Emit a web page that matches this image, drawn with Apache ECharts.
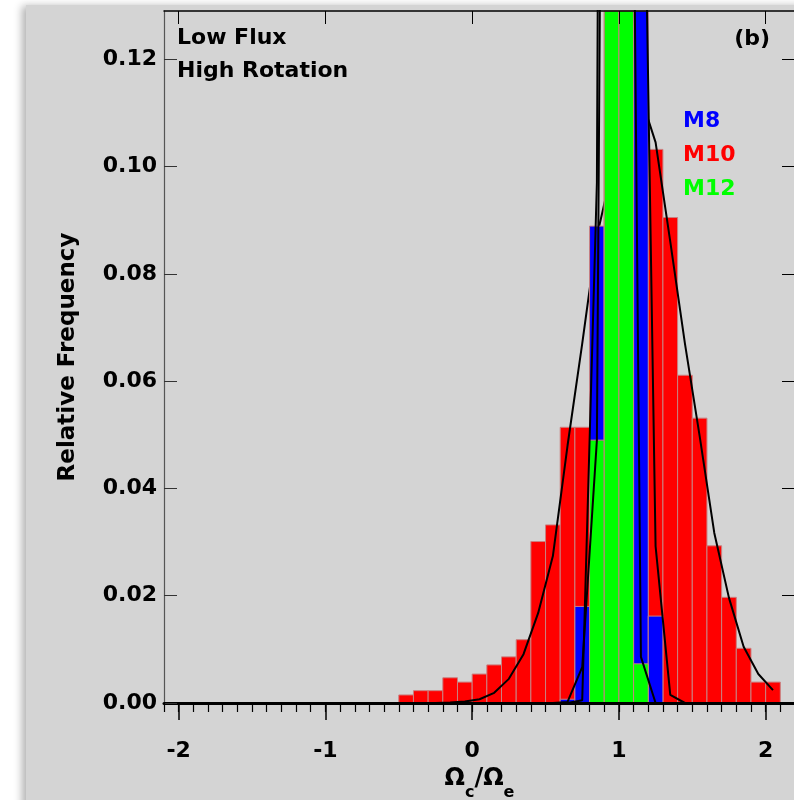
<!DOCTYPE html>
<html><head><meta charset="utf-8">
<script src="https://cdn.jsdelivr.net/npm/echarts@6/dist/echarts.min.js"></script>
<style>
html,body{margin:0;padding:0;width:794px;height:800px;overflow:hidden;background:#fff;}
#panel{position:absolute;left:26px;top:5px;width:790px;height:820px;background:#d4d4d4;box-shadow:-4px 1px 8px rgba(0,0,0,0.3);}
#chart{position:absolute;left:0;top:0;width:790px;height:820px;}
</style></head><body>
<div id="panel"><div id="chart"></div></div>
<script>
// ---- data ----
const m10BinStart = [-0.5,-0.4,-0.3,-0.2,-0.1,0.0,0.1,0.2,0.3,0.4,0.5,0.6,0.7,0.8,0.9,1.0,1.1,1.2,1.3,1.4,1.5,1.6,1.7,1.8,1.9,2.0];
const m10Freq     = [0.0015,0.0023,0.0023,0.0047,0.0039,0.0054,0.0071,0.0086,0.0118,0.0301,0.0332,0.0514,0.0514,0.085,0.105,0.115,0.106,0.1032,0.0905,0.0611,0.0531,0.0293,0.0197,0.0102,0.0039,0.0039];
const m8BinStart  = [0.6,0.7,0.8,0.9,1.0,1.1,1.2];
const m8Freq      = [0.0007,0.0180,0.0889,0.29,0.36,0.226,0.0162];
const m12BinStart = [0.8,0.9,1.0,1.1];
const m12Freq     = [0.049,0.50,0.444,0.0073];

const m10CurveX = [-0.45,-0.35,-0.25,-0.15,-0.05,0.05,0.15,0.25,0.35,0.45,0.55,0.65,0.75,0.85,0.95,1.05,1.15,1.25,1.35,1.45,1.55,1.65,1.75,1.85,1.95,2.05];
const m10CurveY = [0,0,0,0.0001,0.0003,0.0007,0.0019,0.0045,0.0091,0.0168,0.0274,0.0480,0.0670,0.0870,0.0990,0.1090,0.1130,0.1045,0.0860,0.0670,0.0498,0.0317,0.0196,0.0105,0.0054,0.0024];
const m8CurveX  = [0.55,0.65,0.75,0.85,0.95,1.05,1.15,1.25,1.35,1.45];
const m8CurveY  = [0,0.0002,0.0067,0.049,0.45,0.42,0.20,0.0292,0.0015,0];
const m12CurveX = [0.65,0.75,0.85,0.95,1.05,1.15,1.25];
const m12CurveY = [0,0.0005,0.097,0.68,0.30,0.0086,0];

const xMajorTicks = [-2,-1,0,1,2];
const xMinorTicks = [-2.1,-2.0,-1.9,-1.8,-1.7,-1.6,-1.5,-1.4,-1.3,-1.2,-1.1,-1.0,-0.9,-0.8,-0.7,-0.6,-0.5,-0.4,-0.3,-0.2,-0.1,0.0,0.1,0.2,0.3,0.4,0.5,0.6,0.7,0.8,0.9,1.0,1.1,1.2,1.3,1.4,1.5,1.6,1.7,1.8,1.9,2.0,2.1,2.2];
const yTicks = [0,0.02,0.04,0.06,0.08,0.10,0.12];
const seriesNames = ['M8','M10','M12'];
const annotations = ['Low Flux','High Rotation','(b)'];

// ---- rendering ----
const BIN_W = 0.1;
const FONT = '"DejaVu Sans", sans-serif';
const zip = (a, b) => a.map((v, i) => [v, b[i]]);

function barRenderer(color) {
  return function (params, api) {
    const x0 = api.value(0), h = api.value(1);
    const p0 = api.coord([x0, h]);
    const p1 = api.coord([x0 + BIN_W, 0]);
    const cs = params.coordSys;
    const shape = echarts.graphic.clipRectByRect(
      {x: p0[0], y: p0[1], width: p1[0] - p0[0], height: p1[1] - p0[1]},
      {x: cs.x, y: cs.y, width: cs.width, height: cs.height});
    return shape && {type: 'rect', shape: shape,
      style: {fill: color, stroke: '#c98080', lineWidth: 1}};
  };
}

const chart = echarts.init(document.getElementById('chart'));
const labelStyle = {fontFamily: FONT, fontSize: 22, fontWeight: 'bold', color: '#000'};
function txt(x, y, text, color, align) {
  return {type: 'text', x: x, y: y, z: 20, style: {text: text, fontFamily: FONT, fontSize: 22, fontWeight: 'bold',
    fill: color, verticalAlign: 'middle', align: align}};
}
chart.setOption({
  animation: false,
  grid: {left: 138, top: 6, width: 631, height: 692},
  xAxis: [
    {type: 'value', position: 'bottom', min: -2.1, max: 2.2, z: 10,
     axisLine: {show: true, onZero: false, lineStyle: {color: '#000', width: 3}},
     axisTick: {show: true, inside: false, length: 17, lineStyle: {color: '#000', width: 1.5}, customValues: xMajorTicks},
     axisLabel: Object.assign({customValues: xMajorTicks, margin: 37}, labelStyle),
     splitLine: {show: false},
     name: '{o|Ω}{s|c}{o|/Ω}{s|e}', nameLocation: 'middle', nameGap: 64,
     nameTextStyle: {rich: {
       o: {fontFamily: FONT, fontSize: 24, fontWeight: 'bold', color: '#000', verticalAlign: 'top', lineHeight: 34},
       s: {fontFamily: FONT, fontSize: 16, fontWeight: 'bold', color: '#000', verticalAlign: 'bottom', lineHeight: 34}
     }}},
    {type: 'value', position: 'bottom', min: -2.1, max: 2.2, z: 10,
     axisLine: {show: false, onZero: false},
     axisTick: {show: true, inside: false, length: 9, lineStyle: {color: '#000', width: 1.2}, customValues: xMinorTicks},
     axisLabel: {show: false}, splitLine: {show: false}},
    {type: 'value', position: 'top', min: -2.1, max: 2.2, z: 10,
     axisLine: {show: true, onZero: false, lineStyle: {color: '#000', width: 1.5}},
     axisTick: {show: true, inside: true, length: 13, lineStyle: {color: '#000', width: 1}, customValues: xMajorTicks},
     axisLabel: {show: false}, splitLine: {show: false}}
  ],
  yAxis: [
    {type: 'value', position: 'left', min: 0, max: 0.129, z: 10,
     axisLine: {show: true, onZero: false, lineStyle: {color: '#555', width: 1.2}},
     axisTick: {show: true, inside: true, length: 13, lineStyle: {color: '#333', width: 1}, customValues: yTicks},
     axisLabel: Object.assign({customValues: yTicks, margin: 7, formatter: v => v.toFixed(2)}, labelStyle),
     splitLine: {show: false},
     name: 'Relative Frequency', nameLocation: 'middle', nameGap: 84,
     nameTextStyle: {fontFamily: FONT, fontSize: 23, fontWeight: 'bold', color: '#000'}},
    {type: 'value', position: 'right', min: 0, max: 0.129, z: 10,
     axisLine: {show: true, onZero: false, lineStyle: {color: '#000', width: 1.5}},
     axisTick: {show: true, inside: true, length: 13, lineStyle: {color: '#000', width: 1}, customValues: yTicks},
     axisLabel: {show: false}, splitLine: {show: false}}
  ],
  series: [
    {name: seriesNames[1], type: 'custom', z: 1, xAxisIndex: 0, yAxisIndex: 0,
     renderItem: barRenderer('#ff0000'), data: zip(m10BinStart, m10Freq)},
    {name: seriesNames[1] + ' fit', type: 'line', z: 2, showSymbol: false, symbol: 'none',
     lineStyle: {color: '#000', width: 2}, data: zip(m10CurveX, m10CurveY)},
    {name: seriesNames[0], type: 'custom', z: 3,
     renderItem: barRenderer('#0000ff'), data: zip(m8BinStart, m8Freq)},
    {name: seriesNames[2], type: 'custom', z: 4,
     renderItem: barRenderer('#00ff00'), data: zip(m12BinStart, m12Freq)},
    {name: seriesNames[0] + ' fit', type: 'line', z: 5, showSymbol: false, symbol: 'none',
     lineStyle: {color: '#000', width: 2}, data: zip(m8CurveX, m8CurveY)},
    {name: seriesNames[2] + ' fit', type: 'line', z: 6, showSymbol: false, symbol: 'none',
     lineStyle: {color: '#000', width: 2}, data: zip(m12CurveX, m12CurveY)}
  ],
  graphic: [
    txt(151, 33, annotations[0], '#000', 'left'),
    txt(151, 66, annotations[1], '#000', 'left'),
    txt(744, 34, annotations[2], '#000', 'right'),
    txt(657, 116, seriesNames[0], '#0000ff', 'left'),
    txt(657, 150, seriesNames[1], '#ff0000', 'left'),
    txt(657, 184, seriesNames[2], '#00ff00', 'left')
  ]
});
</script>
</body></html>
